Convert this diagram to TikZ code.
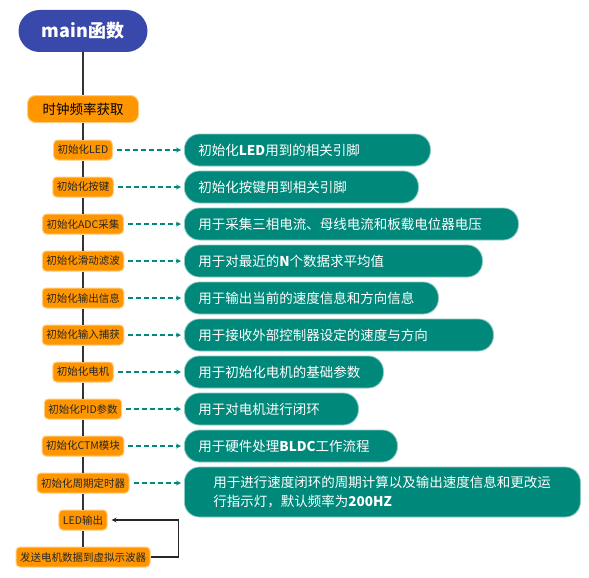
\documentclass[tikz,border=0pt]{standalone}
\usepackage{fontspec}
\setmainfont{Noto Sans CJK SC}
\usetikzlibrary{arrows, positioning}
\definecolor{mainblue}{RGB}{57,73,171}
\definecolor{steporange}{RGB}{255,150,0}
\definecolor{stepglow}{RGB}{255,205,130}
\definecolor{descteal}{RGB}{0,137,123}
\tikzset{
>=stealth, % arrow heads of all connectors
node distance=37pt, % distance between two init steps
title/.style={rounded corners=21pt, fill=mainblue, text=white, minimum width=129pt, minimum height=42pt, font=\fontsize{18pt}{21pt}\selectfont\bfseries},
clockbox/.style={rounded corners=8pt, fill=steporange, draw=stepglow, line width=1pt, minimum width=111pt, minimum height=27pt, font=\fontsize{13.5pt}{16pt}\selectfont},
init/.style={rounded corners=4pt, fill=steporange, draw=stepglow, line width=1pt, inner xsep=4pt, minimum height=20pt, text=black!85, font=\fontsize{10.5pt}{12pt}\selectfont},
desc/.style={rounded corners=15pt, fill=descteal, draw=descteal!45, line width=0.8pt, text=white, anchor=west, inner xsep=14pt, minimum height=32pt, align=left, text width=#1, font=\fontsize{13.5pt}{19pt}\selectfont},
spine/.style={line width=1.5pt, black!80}, % the main line of the flow
hint/.style={->, descteal, line width=1.2pt, dash pattern=on 5pt off 3pt, shorten <=4pt, shorten >=3pt},
back/.style={->, line width=1.2pt, black!85, shorten >=4pt},
}

\begin{document}
\begin{tikzpicture}[x=1pt, y=-1pt]
      \fill[white] (0,0) rectangle (589,578);
      \useasboundingbox (0,0) rectangle (589,578);
      \coordinate (left) at (184,0);

      \node[title] (main) at (83,31) {main函数};
      \node[clockbox, below of=main, node distance=78pt] (clk) {时钟频率获取};
      \node[init, below of=clk, node distance=41pt] (i0) {初始化LED};
      \node[init, below of=i0] (i1) {初始化按键};
      \node[init, below of=i1] (i2) {初始化ADC采集};
      \node[init, below of=i2] (i3) {初始化滑动滤波};
      \node[init, below of=i3] (i4) {初始化输出信息};
      \node[init, below of=i4] (i5) {初始化输入捕获};
      \node[init, below of=i5] (i6) {初始化电机};
      \node[init, below of=i6] (i7) {初始化PID参数};
      \node[init, below of=i7] (i8) {初始化CTM模块};
      \node[init, below of=i8] (i9) {初始化周期定时器};
      \node[init, below of=i9] (led) {LED输出};
      \node[init, below of=led] (send) {发送电机数据到虚拟示波器};

      \node[desc=218pt] (d0) at (i0 -| left) {初始化\textbf{LED}用到的相关引脚};
      \node[desc=206pt] (d1) at (i1 -| left) {初始化按键用到相关引脚};
      \node[desc=306pt] (d2) at (i2 -| left) {用于采集三相电流、母线电流和板载电位器电压};
      \node[desc=270pt] (d3) at (i3 -| left) {用于对最近的\textbf{N}个数据求平均值};
      \node[desc=226pt] (d4) at (i4 -| left) {用于输出当前的速度信息和方向信息};
      \node[desc=281pt] (d5) at (i5 -| left) {用于接收外部控制器设定的速度与方向};
      \node[desc=171pt] (d6) at (i6 -| left) {用于初始化电机的基础参数};
      \node[desc=146pt] (d7) at (i7 -| left) {用于对电机进行闭环};
      \node[desc=185pt] (d8) at (i8 -| left) {用于硬件处理\textbf{BLDC}工作流程};
      \node[desc=338pt, inner xsep=29pt, minimum height=50pt, yshift=-9pt] (d9) at (i9 -| left)
            {用于进行速度闭环的周期计算以及输出速度信息和更改运\\行指示灯，默认频率为\textbf{200HZ}};

      \draw[spine]
      (main) edge (clk)
      (clk) edge (i0)
      (i0) edge (i1)
      (i1) edge (i2)
      (i2) edge (i3)
      (i3) edge (i4)
      (i4) edge (i5)
      (i5) edge (i6)
      (i6) edge (i7)
      (i7) edge (i8)
      (i8) edge (i9)
      (i9) edge (led)
      (led) edge (send)
      ;

      \draw[hint]
      (i0) edge (d0)
      (i1) edge (d1)
      (i2) edge (d2)
      (i3) edge (d3)
      (i4) edge (d4)
      (i5) edge (d5)
      (i6) edge (d6)
      (i7) edge (d7)
      (i8) edge (d8)
      ;
      \draw[hint] (i9) -- (i9 -| d9.west);

      \draw[back] (send.east) -- ++(28,0) |- (led.east);
    \end{tikzpicture}
\end{document}
